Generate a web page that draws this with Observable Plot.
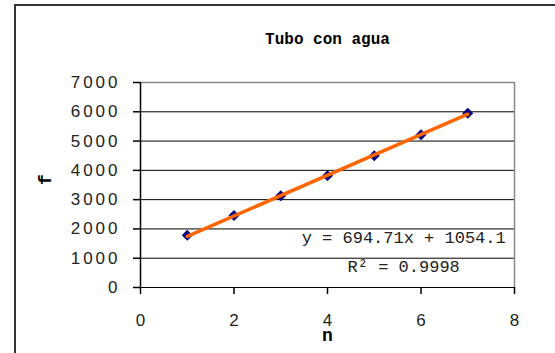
<!DOCTYPE html>
<html>
<head>
<meta charset="utf-8">
<script src="https://cdn.jsdelivr.net/npm/d3@7"></script>
<script src="https://cdn.jsdelivr.net/npm/@observablehq/plot@0.6"></script>
<style>
  html, body { margin: 0; padding: 0; background: #fff; }
  #wrap { position: relative; width: 555px; height: 353px; overflow: hidden; }
  #frame { position: absolute; left: 14px; top: 4px; width: 600px; height: 400px;
           border-left: 2px solid #333; border-top: 2px solid #333; box-sizing: border-box; }
  svg { position: absolute; left: 0; top: 0; }
  g[aria-label="y-axis tick label"] text { letter-spacing: 3px; }
</style>
</head>
<body>
<div id="wrap"><div id="frame"></div></div>
<script>
const nValues = [1, 2, 3, 4, 5, 6, 7];
const fValues = [1780, 2460, 3130, 3820, 4500, 5220, 5950];
const trendX = [1, 7];
const trendY = [1749, 5917];
const yTicks = [0, 1000, 2000, 3000, 4000, 5000, 6000, 7000];
const xTicks = [0, 2, 4, 6, 8];
const titleText = "Tubo con agua";
const xLabel = "n";
const yLabel = "f";
const eqText = "y = 694.71x + 1054.1";
const r2Text = "R² = 0.9998";

const points = nValues.map((n, i) => ({n, f: fValues[i]}));
const trend = trendX.map((x, i) => ({x, y: trendY[i]}));

const tickFont = "Liberation Sans, Arial, sans-serif";
const monoFont = "Liberation Mono, Courier New, monospace";

const chart = Plot.plot({
  width: 555,
  height: 353,
  marginLeft: 140,
  marginRight: 41,
  marginTop: 82,
  marginBottom: 66,
  style: {background: "transparent", overflow: "visible"},
  x: {type: "linear", domain: [0, 8]},
  y: {type: "linear", domain: [0, 7000]},
  marks: [
    Plot.ruleY(yTicks.filter(d => d < 7000), {stroke: "#000", strokeWidth: 1}),
    Plot.ruleY([7000], {stroke: "#888", strokeWidth: 1.5}),
    Plot.ruleX([8], {stroke: "#888", strokeWidth: 1.5}),
    Plot.ruleX([0], {stroke: "#000", strokeWidth: 1.5}),
    Plot.axisY({ticks: yTicks, tickSize: 7, tickPadding: 13, tickFormat: d => String(d),
      fontSize: 17, fontFamily: tickFont, fill: "#222", label: null, strokeWidth: 1.5}),
    Plot.axisX({ticks: xTicks, tickSize: 7, tickPadding: 19, tickFormat: d => String(d),
      fontSize: 17, fontFamily: tickFont, fill: "#222", label: null, strokeWidth: 1.5}),
    Plot.dot(points, {x: "n", y: "f", symbol: "diamond2", fill: "#000080", stroke: "#000080", r: 4}),
    Plot.line(trend, {x: "x", y: "y", stroke: "#FF6600", strokeWidth: 3.5}),
    Plot.text([eqText], {x: 5.63, y: 1710, text: d => d, fontFamily: monoFont, fontSize: 17, fill: "#222"}),
    Plot.text([r2Text], {x: 5.63, y: 700, text: d => d, fontFamily: monoFont, fontSize: 17, fill: "#222"}),
    Plot.text([titleText], {frameAnchor: "top", dy: -50, text: d => d, fontFamily: monoFont,
      fontWeight: "bold", fontSize: 16, letterSpacing: 3, fill: "#000"}),
    Plot.text([xLabel], {frameAnchor: "bottom", dy: 53, text: d => d, fontFamily: monoFont,
      fontWeight: "bold", fontSize: 18, fill: "#000"}),
    Plot.text([yLabel], {frameAnchor: "left", dx: -95, rotate: -90, text: d => d, fontFamily: monoFont,
      fontWeight: "bold", fontSize: 18, fill: "#000"})
  ]
});
document.getElementById("wrap").appendChild(chart);
</script>
</body>
</html>
